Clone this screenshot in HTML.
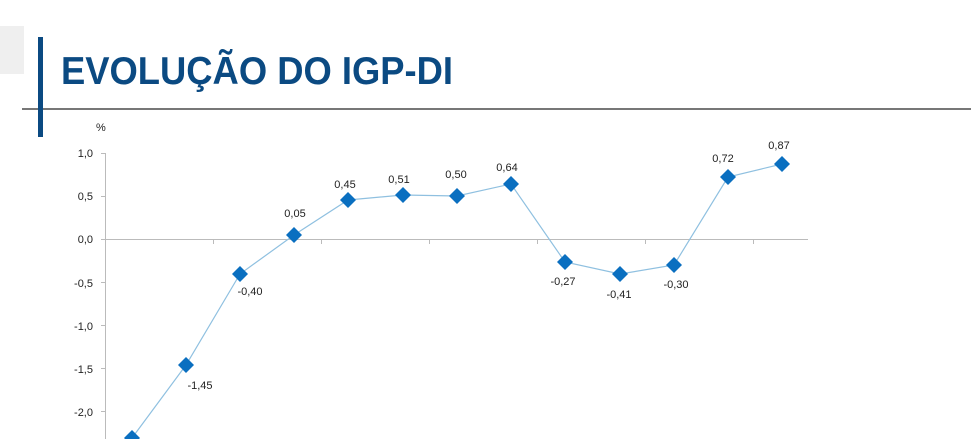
<!DOCTYPE html><html><head><style>
body{margin:0;width:971px;height:439px;overflow:hidden;background:#fff;font-family:"Liberation Sans",sans-serif}
</style></head><body>
<svg width="971" height="439" xmlns="http://www.w3.org/2000/svg" style="position:absolute;left:0;top:0">
<rect x="0" y="26" width="24" height="48" fill="#efefef"/>
<line x1="22" y1="109" x2="971" y2="109" stroke="#777" stroke-width="2"/>
<rect x="38" y="37" width="5" height="100" fill="#0b4a82"/>
<text x="61" y="84" font-size="39" font-weight="bold" fill="#0b4a82" textLength="392" lengthAdjust="spacingAndGlyphs">EVOLUÇÃO DO IGP-DI</text>
<g font-size="11" fill="#222">
<text x="96" y="131">%</text>
<g text-anchor="end">
<text x="93" y="157">1,0</text><text x="93" y="200">0,5</text><text x="93" y="243">0,0</text>
<text x="93" y="287">-0,5</text><text x="93" y="330">-1,0</text><text x="93" y="373">-1,5</text><text x="93" y="416">-2,0</text>
</g></g>
<g stroke="#bbb" stroke-width="1">
<line x1="105.5" y1="153" x2="105.5" y2="439"/>
<line x1="101" y1="153.5" x2="105" y2="153.5"/><line x1="101" y1="196.5" x2="105" y2="196.5"/>
<line x1="101" y1="282.5" x2="105" y2="282.5"/><line x1="101" y1="325.5" x2="105" y2="325.5"/>
<line x1="101" y1="368.5" x2="105" y2="368.5"/><line x1="101" y1="411.5" x2="105" y2="411.5"/>
<line x1="101" y1="239.5" x2="808" y2="239.5"/>
<line x1="213.5" y1="239" x2="213.5" y2="244"/><line x1="321.5" y1="239" x2="321.5" y2="244"/>
<line x1="429.5" y1="239" x2="429.5" y2="244"/><line x1="537.5" y1="239" x2="537.5" y2="244"/>
<line x1="645.5" y1="239" x2="645.5" y2="244"/><line x1="753.5" y1="239" x2="753.5" y2="244"/>
</g>
<polyline fill="none" stroke="#8fc0e0" stroke-width="1.2" points="132,438 186,365 240,274 294,235 348,200 403,195 457,196 511,184 565,262 620,274 674,265 728,177 782,164"/>
<g fill="#0a6fc0">
<path d="M132,430l8,8l-8,8l-8-8z"/>
<path d="M186,357l8,8l-8,8l-8-8z"/><path d="M240,266l8,8l-8,8l-8-8z"/><path d="M294,227l8,8l-8,8l-8-8z"/>
<path d="M348,192l8,8l-8,8l-8-8z"/><path d="M403,187l8,8l-8,8l-8-8z"/><path d="M457,188l8,8l-8,8l-8-8z"/>
<path d="M511,176l8,8l-8,8l-8-8z"/><path d="M565,254l8,8l-8,8l-8-8z"/><path d="M620,266l8,8l-8,8l-8-8z"/>
<path d="M674,257l8,8l-8,8l-8-8z"/><path d="M728,169l8,8l-8,8l-8-8z"/><path d="M782,156l8,8l-8,8l-8-8z"/>
</g>
<g font-size="11" fill="#222" text-anchor="middle">
<text x="200" y="389">-1,45</text><text x="250" y="295">-0,40</text><text x="295" y="217">0,05</text>
<text x="345" y="188">0,45</text><text x="399" y="183">0,51</text><text x="456" y="178">0,50</text>
<text x="507" y="171">0,64</text><text x="563" y="285">-0,27</text><text x="619" y="298">-0,41</text>
<text x="676" y="288">-0,30</text><text x="723" y="162">0,72</text><text x="779" y="149">0,87</text>
</g>
</svg>
</body></html>
